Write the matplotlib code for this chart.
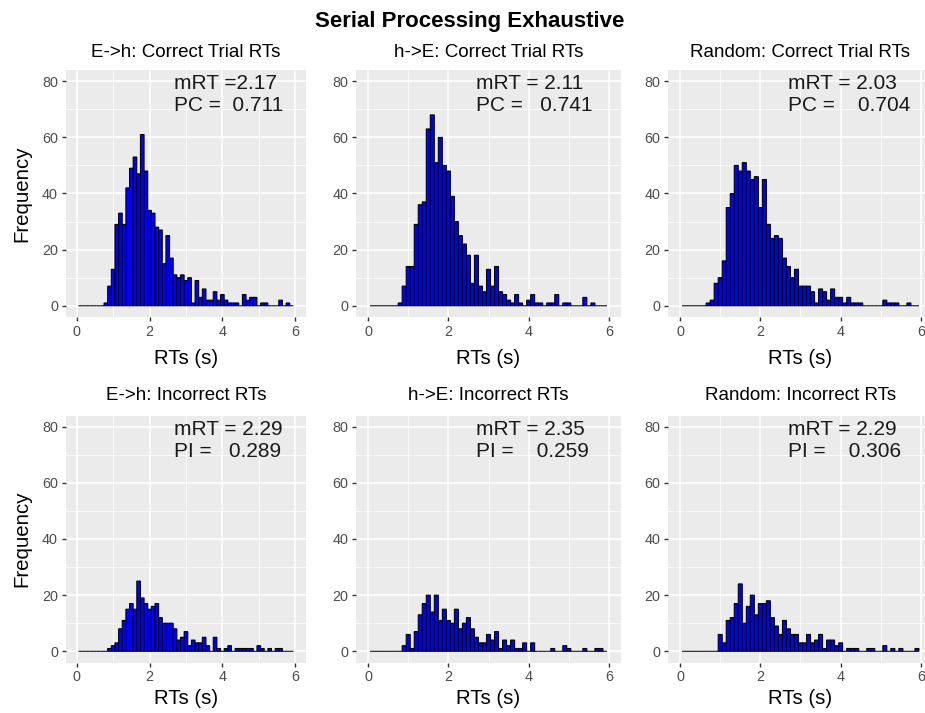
#!/usr/bin/env python3
"""
RT histograms for the serial exhaustive model: correct and incorrect trials
for the three presentation orders.
"""

import numpy as np
import matplotlib
matplotlib.use("Agg")
import matplotlib.pyplot as plt

plt.rcParams['font.family'] = ['Liberation Sans', 'DejaVu Sans']

W, H = 925, 713

# Bin counts, one value per 0.1 s bin centred on 0.1 ... 5.9 s
BIN_WIDTH = 0.1
bin_centers = np.round(np.arange(1, 60) * BIN_WIDTH, 2)

eh_correct = [0, 0, 0, 0, 0, 0, 0,
              1, 7, 13, 29, 33, 29, 42, 49, 53, 47,
              61, 48, 34, 33, 28, 27, 15, 25, 17, 11,
              10, 11, 9, 10, 1, 9, 3, 6, 2, 2,
              5, 2, 4, 2, 1, 1, 1, 0, 4, 2,
              3, 3, 0, 1, 1, 0, 0, 0, 2, 0,
              1, 0]
he_correct = [0, 0, 0, 0, 0, 0, 0,
              1, 7, 14, 14, 29, 36, 37, 63, 68, 51,
              60, 50, 48, 39, 30, 25, 22, 18, 8, 18,
              7, 5, 13, 7, 14, 5, 4, 2, 1, 4,
              1, 0, 2, 4, 1, 1, 0, 1, 1, 4,
              0, 1, 1, 0, 0, 0, 3, 0, 1, 0,
              0, 0]
rand_correct = [0, 0, 0, 0, 0, 0,
                1, 2, 8, 10, 16, 35, 40, 50, 48, 51,
                48, 45, 46, 35, 45, 29, 24, 25, 24, 17,
                14, 10, 13, 7, 7, 7, 5, 1, 6, 5,
                2, 6, 3, 3, 1, 3, 1, 1, 1, 0,
                0, 0, 0, 0, 2, 1, 1, 1, 0, 0,
                1, 0, 0]
eh_incorrect = [0, 0, 0, 0, 0, 0, 0, 0,
                1, 2, 3, 8, 11, 15, 17, 15, 25, 19,
                17, 15, 16, 17, 12, 10, 10, 10, 8, 4,
                5, 7, 2, 4, 3, 3, 5, 2, 0, 5,
                1, 0, 1, 2, 0, 1, 1, 1, 1, 1,
                0, 2, 1, 0, 1, 0, 1, 1, 0, 0,
                0]
he_incorrect = [0, 0, 0, 0, 0, 0, 0, 0,
                2, 6, 1, 7, 13, 17, 20, 14, 20, 11,
                15, 11, 10, 15, 8, 10, 12, 8, 5, 3,
                3, 6, 4, 7, 1, 4, 2, 4, 1, 1,
                3, 0, 3, 0, 0, 0, 0, 1, 0, 0,
                2, 1, 0, 0, 0, 1, 0, 0, 1, 1,
                0]
rand_incorrect = [0, 0, 0, 0, 0, 0, 0, 0, 0,
                  6, 3, 11, 12, 17, 24, 10, 16, 20, 13,
                  17, 17, 18, 12, 9, 6, 11, 8, 6, 6,
                  3, 3, 6, 3, 4, 6, 1, 4, 4, 2,
                  3, 0, 1, 1, 1, 0, 0, 1, 1, 0,
                  0, 2, 0, 1, 0, 1, 0, 0, 0, 1]

panel_counts = [eh_correct, he_correct, rand_correct,
                eh_incorrect, he_incorrect, rand_incorrect]
panel_titles = ["E->h: Correct Trial RTs", "h->E: Correct Trial RTs",
                "Random: Correct Trial RTs",
                "E->h: Incorrect RTs", "h->E: Incorrect RTs",
                "Random: Incorrect RTs"]
stat_line1 = ["mRT =2.17", "mRT = 2.11", "mRT = 2.03",
              "mRT = 2.29", "mRT = 2.35", "mRT = 2.29"]
stat_line2 = ["PC =  0.711", "PC =   0.741", "PC =    0.704",
              "PI =   0.289", "PI =    0.259", "PI =    0.306"]

# Panel boxes in pixels: (left, width) per column, top per row
COLS = [(65.8, 240.3), (356.0, 265.0), (668.0, 265.0)]
ROW_TOPS = [70.0, 415.5]
PANEL_H = 247.0

fig = plt.figure(figsize=(W / 100, H / 100), dpi=100)
fig.patch.set_facecolor('white')

fig.text(470 / W, 1 - 27.5 / H, "Serial Processing Exhaustive",
         ha='center', va='baseline', fontsize=16, fontweight='bold')

title_base = [56.7, 400.5]
xlabel_base = [363.8, 704.0]

for i, counts in enumerate(panel_counts):
    row, col = divmod(i, 3)
    left, width = COLS[col]
    top = ROW_TOPS[row]
    ax = fig.add_axes([left / W, 1 - (top + PANEL_H) / H, width / W, PANEL_H / H])
    ax.set_facecolor('#EBEBEB')
    for s in ax.spines.values():
        s.set_visible(False)

    # unsnapped so every bar keeps a soft black outline
    ax.bar(bin_centers, counts, width=BIN_WIDTH, color='#0000FF',
           edgecolor='black', linewidth=0.75, zorder=3, snap=False)

    ax.set_xlim(-0.3, 6.3)
    ax.set_ylim(-4, 84)
    ax.set_xticks([0, 2, 4, 6])
    ax.set_xticks([1, 3, 5], minor=True)
    ax.set_yticks([0, 20, 40, 60, 80])
    ax.set_yticks([10, 30, 50, 70], minor=True)
    ax.grid(which='major', color='white', linewidth=1.1, zorder=0)
    ax.grid(which='minor', color='white', linewidth=0.55, zorder=0)
    ax.set_axisbelow(True)
    ax.tick_params(which='major', length=3.2, width=1.0, color='#333333',
                   labelcolor='#4D4D4D', labelsize=10.4, pad=2.5)
    ax.tick_params(which='minor', length=0)

    ax.text(2.68, 77.2, stat_line1[i], ha='left', va='baseline',
            fontsize=15, color='#1A1A1A', zorder=4)
    ax.text(2.68, 69.3, stat_line2[i], ha='left', va='baseline',
            fontsize=15, color='#1A1A1A', zorder=4)

    cx = (left + width / 2) / W
    fig.text(cx, 1 - title_base[row] / H, panel_titles[i],
             ha='center', va='baseline', fontsize=13.5)
    fig.text(cx, 1 - xlabel_base[row] / H, "RTs (s)",
             ha='center', va='baseline', fontsize=14.7)

    if col == 0:
        fig.text(21.5 / W, 1 - (top + PANEL_H / 2) / H, "Frequency",
                 ha='center', va='center', rotation=90, fontsize=14.7)

fig.savefig("out.png", dpi=100)
